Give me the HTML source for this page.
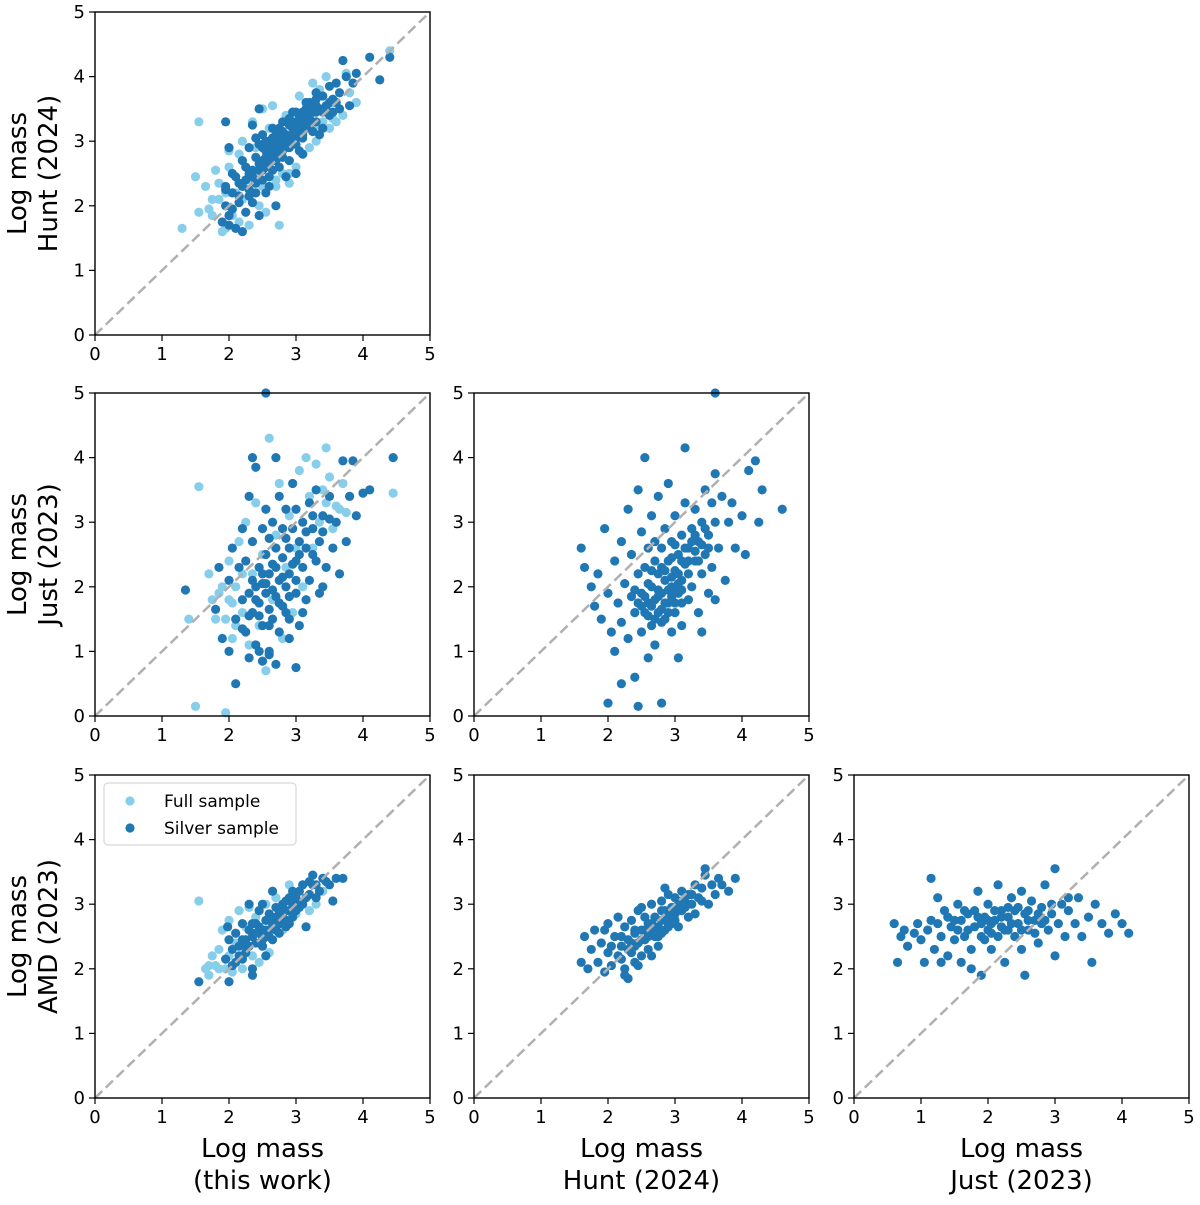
<!DOCTYPE html>
<html><head><meta charset="utf-8"><style>
body{margin:0;background:#fff}
svg text{font-family:"DejaVu Sans","Liberation Sans",sans-serif;fill:#000}
</style></head><body>
<svg id="fig" width="1200" height="1200" viewBox="0 0 1200 1200" xmlns="http://www.w3.org/2000/svg"></svg>
<script>
const tickValues=[0,1,2,3,4,5];
const aFull="1.3,1.65 1.55,3.3 1.5,2.45 1.55,1.9 1.65,2.3 1.7,1.95 1.75,2.1 1.8,2.55 1.85,2.35 1.9,1.6 1.95,2.2 2.0,2.6 2.0,2.85 2.05,1.85 2.1,2.2 2.15,2.8 2.2,2.1 2.2,3.0 2.3,1.7 2.3,2.4 2.35,3.3 2.4,2.9 2.45,2.0 2.5,2.3 2.5,3.5 2.55,1.9 2.6,2.7 2.65,3.55 2.7,2.4 2.75,1.7 2.8,2.5 2.85,3.4 2.9,2.35 2.95,3.0 3.0,2.6 3.05,3.7 3.1,2.8 3.15,3.2 3.2,2.9 3.25,3.9 3.3,3.0 3.35,3.8 3.4,3.3 3.45,4.0 3.5,3.2 3.55,3.6 3.6,3.3 3.7,3.4 3.75,4.05 3.8,3.75 3.9,3.6 4.4,4.4 2.25,2.6 2.6,3.2 2.8,2.9 3.0,3.3 2.4,2.5 1.95,1.65 2.15,1.75 1.85,2.1 1.75,1.85 2.7,2.3 2.9,2.5 3.3,3.2 3.55,3.35";
const aSilver="1.9,1.75 1.95,2.3 2.0,1.7 2.05,1.95 2.1,1.65 2.1,2.45 2.15,2.05 2.2,1.6 2.2,2.3 2.25,1.9 2.25,2.6 2.3,2.15 2.3,2.9 2.35,2.45 2.35,3.25 2.4,2.2 2.4,2.75 2.45,2.55 2.45,2.95 2.5,2.4 2.5,2.7 2.5,3.1 2.55,2.6 2.55,2.85 2.6,2.3 2.6,2.75 2.6,3.0 2.65,2.55 2.65,2.9 2.65,3.2 2.7,2.7 2.7,2.95 2.7,3.1 2.75,2.6 2.75,2.85 2.75,3.05 2.8,2.75 2.8,3.0 2.8,3.3 2.85,2.9 2.85,3.1 2.9,2.7 2.9,3.0 2.9,3.25 2.95,2.95 2.95,3.2 2.95,3.45 3.0,3.05 3.0,3.3 3.05,2.85 3.05,3.15 3.05,3.4 3.1,3.05 3.1,3.3 3.15,3.5 3.15,3.2 3.2,3.35 3.2,3.6 3.25,3.15 3.25,3.45 3.3,3.3 3.3,3.65 3.35,3.5 3.4,3.2 3.4,3.7 3.45,3.55 3.5,3.85 3.5,3.4 3.55,3.65 3.6,3.9 3.65,3.75 3.7,4.25 3.75,4.0 3.8,3.55 3.85,3.9 3.9,4.05 4.1,4.3 4.25,3.95 4.4,4.3 1.95,3.3 2.45,3.5 3.0,2.5 2.7,2.0 2.35,2.05 1.95,2.25 2.05,2.5 2.55,2.2 2.85,2.45 3.1,2.8 2.2,2.7 2.4,3.05 2.6,2.45 3.35,3.1 2.45,1.85 2.0,2.9 2.55,2.75 2.65,2.8 2.75,2.9 2.85,3.0 2.95,3.1 3.05,3.25 3.15,3.35 3.25,3.55 2.45,2.65 2.35,2.55 2.25,2.4 2.15,2.35 2.5,2.9 2.6,2.9 3.1,3.45 3.2,3.25 3.3,3.45 3.45,3.5 3.55,3.45 2.8,3.15 2.7,2.85 3.0,3.15 2.5,2.55 2.6,2.65 2.7,2.75 2.8,2.85 2.9,2.9 3.0,2.95 3.1,3.1 3.2,3.45 3.3,3.55 3.4,3.45 3.5,3.6 3.6,3.6 3.65,3.5 2.4,2.35 2.3,2.5 2.55,3.0 2.65,3.05 2.75,3.2 2.9,3.35 3.0,3.45 3.15,3.6 3.3,3.75 2.3,2.25 2.15,2.15 2.05,2.2 1.95,2.0 2.0,1.85";
const bFull="1.4,1.5 1.5,0.15 1.55,3.55 1.7,2.2 1.75,1.8 1.85,1.9 1.95,0.05 1.95,1.5 2.0,2.4 2.05,1.2 2.1,2.0 2.15,2.7 2.2,1.6 2.25,3.0 2.3,1.1 2.35,2.2 2.4,3.3 2.45,1.4 2.5,2.5 2.55,0.7 2.6,4.3 2.65,1.8 2.7,2.8 2.75,3.6 2.8,1.2 2.85,2.3 2.9,3.1 2.95,1.6 3.0,2.6 3.05,3.8 3.1,2.0 3.2,3.4 3.25,2.6 3.3,3.9 3.35,3.0 3.4,3.5 3.5,3.7 3.55,2.9 3.6,3.25 3.7,3.6 3.8,3.4 4.45,3.45 3.45,4.15 3.15,4.0 1.9,2.0 2.05,1.75 3.75,3.15 1.8,1.5 2.0,1.8 2.1,1.4 2.2,2.2 3.45,3.3 3.65,3.2";
const bSilver="2.55,5.0 1.35,1.95 1.8,1.65 1.85,2.3 1.9,1.2 2.0,1.0 2.0,2.1 2.05,2.6 2.1,1.5 2.1,0.5 2.15,2.3 2.2,1.8 2.2,2.9 2.25,1.3 2.25,2.4 2.3,0.9 2.3,1.9 2.3,3.4 2.35,1.6 2.35,2.7 2.4,2.0 2.4,1.1 2.4,3.85 2.45,2.3 2.45,1.75 2.5,2.9 2.5,1.4 2.5,2.05 2.55,3.2 2.55,1.9 2.55,2.5 2.6,1.0 2.6,2.2 2.6,2.75 2.65,1.5 2.65,3.0 2.65,2.35 2.7,1.85 2.7,2.6 2.7,0.8 2.75,2.1 2.75,3.4 2.75,1.3 2.8,2.45 2.8,2.9 2.8,1.7 2.85,2.0 2.85,3.2 2.9,2.6 2.9,1.5 2.9,2.2 2.95,2.9 2.95,3.6 3.0,1.9 3.0,2.4 3.0,3.2 3.05,2.7 3.05,1.4 3.1,2.3 3.1,3.0 3.15,1.8 3.15,2.6 3.2,3.3 3.2,2.1 3.25,2.9 3.3,2.4 3.3,3.5 3.35,1.9 3.35,2.7 3.4,3.1 3.45,2.3 3.5,3.4 3.55,2.6 3.6,3.0 3.65,2.2 3.7,3.95 3.75,2.7 3.8,3.4 3.9,3.1 4.0,3.45 4.1,3.5 4.45,4.0 3.85,3.95 2.7,4.0 2.35,4.0 2.45,1.0 3.0,0.75 2.6,1.4 2.5,0.85 2.2,1.35 2.85,2.75 3.25,3.1 2.6,0.95 2.9,1.2 3.4,2.0 3.1,1.6 2.4,1.8 2.5,2.2 2.6,1.65 2.7,2.3 2.8,2.15 2.9,1.85 3.0,2.1 2.35,2.1 2.45,1.55 2.55,2.05 2.65,1.95 2.75,1.75 2.85,1.6 2.95,2.35 3.05,2.5 3.15,2.85 3.25,2.5 3.4,2.85 3.5,3.05 2.3,1.55";
const cSilver="3.6,5.0 1.6,2.6 1.65,2.3 1.75,2.0 1.8,1.7 1.85,2.2 1.9,1.5 1.95,2.9 2.0,1.9 2.0,0.2 2.05,1.3 2.1,2.4 2.1,1.0 2.15,1.75 2.2,2.7 2.2,1.45 2.25,2.05 2.3,3.2 2.3,1.2 2.35,1.85 2.35,2.5 2.4,0.6 2.4,1.6 2.45,2.2 2.45,0.15 2.45,3.5 2.5,1.3 2.5,1.9 2.5,2.85 2.55,1.6 2.55,4.0 2.55,2.3 2.6,0.9 2.6,1.75 2.6,2.6 2.65,1.4 2.65,2.0 2.65,3.1 2.7,1.8 2.7,2.4 2.7,1.1 2.75,2.2 2.75,1.6 2.75,3.4 2.8,1.9 2.8,2.6 2.8,0.2 2.85,1.5 2.85,2.1 2.85,2.9 2.9,1.75 2.9,2.4 2.9,3.6 2.95,1.3 2.95,2.0 2.95,2.7 3.0,1.6 3.0,2.25 3.0,3.1 3.05,1.9 3.05,2.5 3.05,0.9 3.1,2.1 3.1,2.8 3.1,1.4 3.15,2.35 3.15,3.3 3.15,4.15 3.2,1.8 3.2,2.6 3.25,2.9 3.25,2.0 3.3,3.2 3.3,2.4 3.35,1.6 3.35,2.7 3.4,3.0 3.4,2.2 3.45,3.5 3.45,2.5 3.5,2.8 3.5,1.9 3.55,3.3 3.55,2.3 3.6,3.0 3.6,3.75 3.65,2.6 3.7,3.4 3.75,2.1 3.8,3.0 3.85,3.3 3.9,2.6 4.0,3.1 4.05,2.5 4.1,3.8 4.2,3.95 4.25,3.0 4.3,3.5 4.6,3.2 3.4,1.3 2.2,0.5 3.6,1.8 2.85,2.25 2.95,2.15 3.0,1.95 2.9,1.95 2.8,2.3 3.1,2.4 2.75,1.95 2.95,2.45 3.05,2.2 3.15,2.6 2.65,2.25 2.85,1.75 3.2,2.2 3.25,2.7 2.7,2.7 3.35,2.4 3.0,2.65 2.8,1.65 3.1,1.75 2.6,2.05 3.45,2.9 3.3,2.8 2.6,1.55 2.7,1.5 2.8,1.45 2.9,1.6 3.0,1.75 3.1,1.95 2.55,1.85 2.65,1.7 2.75,1.85 2.95,1.85 3.05,2.05 3.2,2.4 3.3,2.55 3.4,2.65 3.5,2.6 2.5,1.7 2.4,1.95 2.45,1.75";
const dFull="1.55,3.05 1.65,2.0 1.7,1.9 1.8,2.05 1.85,2.3 1.9,2.6 1.95,2.0 2.0,2.75 2.05,1.95 2.1,2.4 2.15,2.9 2.2,2.0 2.25,2.65 2.3,2.95 2.35,2.2 2.4,2.8 2.5,2.5 2.6,2.25 2.7,3.1 2.8,2.6 2.9,3.3 3.0,2.85 3.1,3.3 3.2,2.9 3.3,3.0 3.4,3.2 2.55,3.0 2.45,2.1 1.75,2.2 2.0,2.2 2.2,2.2 1.7,2.05 1.85,2.0";
const dSilver="1.55,1.8 1.95,2.15 1.98,2.65 2.0,1.8 2.05,2.3 2.1,2.1 2.1,2.55 2.15,2.35 2.2,2.15 2.2,2.7 2.25,2.45 2.25,2.25 2.3,2.6 2.3,2.35 2.35,2.5 2.35,2.0 2.4,2.7 2.4,2.4 2.45,2.55 2.45,2.9 2.5,2.6 2.5,2.35 2.55,2.75 2.55,2.5 2.6,2.6 2.6,2.85 2.65,2.7 2.65,2.45 2.7,2.8 2.7,2.6 2.75,2.9 2.75,2.7 2.8,2.8 2.8,3.0 2.85,2.75 2.85,3.05 2.9,2.9 2.9,2.7 2.95,3.0 3.0,3.1 3.0,2.9 3.05,3.2 3.1,3.0 3.1,3.3 3.15,2.65 3.2,3.35 3.2,3.15 3.25,3.45 3.3,3.3 3.35,3.2 3.4,3.4 3.45,3.35 3.5,3.3 3.55,3.05 3.6,3.4 3.7,3.4 2.3,3.0 2.5,3.0 2.65,3.2 2.55,2.2 2.35,1.9 2.0,2.45 2.45,2.65 2.6,2.75 2.35,2.7 2.85,2.9 3.25,3.3 3.0,3.0 2.7,2.95 2.95,3.2 2.2,2.45 2.4,2.55 2.05,2.05 2.15,2.2 2.25,2.35 2.5,2.45 2.6,2.5 2.75,2.55 2.85,2.65 2.95,2.8 3.05,2.95 3.15,3.1 3.3,3.1 2.9,3.1 2.55,2.6";
const eSilver="1.6,2.1 1.65,2.5 1.7,2.0 1.75,2.3 1.8,2.6 1.85,2.1 1.9,2.4 1.95,1.95 2.0,2.7 2.0,2.25 2.05,2.05 2.1,2.5 2.15,2.2 2.15,2.8 2.2,2.35 2.25,2.0 2.25,2.65 2.3,2.45 2.3,1.85 2.35,2.25 2.35,2.75 2.4,2.55 2.4,2.1 2.45,2.4 2.45,2.9 2.5,2.6 2.5,2.2 2.55,2.45 2.55,2.8 2.6,2.6 2.6,2.3 2.65,2.7 2.65,3.0 2.7,2.5 2.7,2.8 2.75,2.65 2.75,2.35 2.8,2.75 2.8,3.05 2.85,2.6 2.85,2.9 2.9,2.8 2.9,3.15 2.95,2.7 2.95,2.95 3.0,2.85 3.0,3.1 3.05,2.65 3.05,3.0 3.1,2.9 3.1,3.2 3.15,3.05 3.2,2.8 3.2,3.15 3.25,3.0 3.3,3.3 3.3,2.85 3.35,3.1 3.4,3.25 3.45,3.45 3.5,3.0 3.55,3.3 3.6,3.15 3.65,3.4 3.7,3.3 3.8,3.2 3.9,3.4 2.25,1.9 2.45,2.05 2.65,2.2 1.95,2.6 2.5,2.95 2.85,3.25 3.45,3.55 2.35,2.4 2.55,2.6 2.75,2.5 2.95,2.85 3.15,2.95 2.6,2.5 2.7,2.65 2.8,2.9 2.9,2.65 3.0,2.75 2.4,2.35 2.2,2.15 2.05,2.35 2.5,2.45 2.6,2.7 2.7,2.6 2.8,2.55 3.0,2.95 3.1,3.05 3.25,3.15 3.4,3.05 2.3,2.3 2.4,2.6 2.85,2.75 2.2,2.5";
const fSilver="0.6,2.7 0.65,2.1 0.7,2.5 0.75,2.6 0.8,2.35 0.9,2.55 0.95,2.7 1.0,2.45 1.05,2.1 1.1,2.6 1.15,3.4 1.2,2.3 1.25,2.7 1.3,2.5 1.35,2.9 1.4,2.2 1.45,2.65 1.5,2.45 1.55,3.0 1.6,2.75 1.6,2.1 1.65,2.5 1.7,2.85 1.75,2.3 1.8,2.65 1.85,3.2 1.9,2.5 1.9,1.9 1.95,2.8 2.0,2.6 2.0,3.0 2.05,2.3 2.1,2.75 2.15,2.5 2.15,3.3 2.2,2.9 2.25,2.6 2.25,2.1 2.3,2.8 2.35,3.1 2.4,2.5 2.4,2.9 2.45,2.7 2.5,3.2 2.5,2.3 2.55,2.85 2.6,2.6 2.65,3.05 2.7,2.75 2.75,2.4 2.8,2.95 2.85,3.3 2.9,2.6 2.95,2.85 3.0,3.55 3.0,2.2 3.05,2.7 3.1,3.0 3.15,2.5 3.2,2.9 3.3,2.7 3.35,3.1 3.4,2.5 3.5,2.8 3.55,2.1 3.6,3.0 3.7,2.7 3.8,2.55 3.9,2.85 4.0,2.7 4.1,2.55 1.75,2.0 2.55,1.9 1.3,2.1 2.0,2.75 2.3,2.6 2.6,2.9 1.8,2.9 2.2,2.65 2.45,2.95 2.7,2.55 1.55,2.6 1.9,2.7 2.1,2.9 2.35,2.7 2.8,2.7 2.95,3.0 3.2,3.1 1.4,2.8 1.65,2.9 2.05,2.55 1.25,3.1 1.7,2.6 1.85,2.8 2.05,2.7 2.2,2.8 2.3,2.95 2.5,2.6 2.6,2.75 2.75,2.85 2.85,2.75 1.95,2.45 1.5,2.75 1.15,2.75";

const NS="http://www.w3.org/2000/svg";
const svg=document.getElementById('fig');
function mk(tag,attrs,parent){const e=document.createElementNS(NS,tag);for(const k in attrs)e.setAttribute(k,attrs[k]);(parent||svg).appendChild(e);return e;}
function parse(s){return s.trim().split(/\s+/).map(p=>p.split(',').map(Number));}
const LIGHT="#87ceeb",DARK="#1f77b4";
const colX=[95,474,854],rowY=[12,393,775],W=335,H=323;
const panels=[
 {id:'hunt-vs-thiswork',c:0,r:0,full:aFull,silver:aSilver},
 {id:'just-vs-thiswork',c:0,r:1,full:bFull,silver:bSilver},
 {id:'just-vs-hunt',c:1,r:1,full:null,silver:cSilver},
 {id:'amd-vs-thiswork',c:0,r:2,full:dFull,silver:dSilver},
 {id:'amd-vs-hunt',c:1,r:2,full:null,silver:eSilver},
 {id:'amd-vs-just',c:2,r:2,full:null,silver:fSilver}
];
const R=4.6;
panels.forEach(p=>{
 const x0=colX[p.c],y0=rowY[p.r];
 const sx=v=>x0+v/5*W, sy=v=>y0+H-v/5*H;
 const g=mk('g',{});
 
 
 [[p.full,LIGHT,'full-sample-point'],[p.silver,DARK,'silver-sample-point']].forEach(([d,col,nm])=>{
  if(!d)return;
  parse(d).forEach(([x,y])=>{
   const c=mk('circle',{cx:sx(x),cy:sy(y),r:R,fill:col},g);
   
   
  });
 });
 const dl=mk('line',{x1:sx(0),y1:sy(0),x2:sx(5),y2:sy(5),stroke:'#b0b0b0','stroke-width':2.5,'stroke-dasharray':'10,5'},g);
 
 
 const fr=mk('rect',{x:x0,y:y0,width:W,height:H,fill:'none',stroke:'#000','stroke-width':1.4},g);
 
 
 tickValues.forEach(t=>{
  mk('line',{x1:sx(t),y1:y0+H,x2:sx(t),y2:y0+H+6,stroke:'#000','stroke-width':1.2},g);
  const tx=mk('text',{x:sx(t),y:y0+H+25,'text-anchor':'middle','font-size':18},g);
  tx.textContent=t;
  
  
  mk('line',{x1:x0-6,y1:sy(t),x2:x0,y2:sy(t),stroke:'#000','stroke-width':1.2},g);
  const ty=mk('text',{x:x0-10,y:sy(t)+6,'text-anchor':'end','font-size':18},g);
  ty.textContent=t;
  
  
 });
});
const yTitles=[['Log mass','Hunt (2024)'],['Log mass','Just (2023)'],['Log mass','AMD (2023)']];
yTitles.forEach((t,i)=>{
 const cy=rowY[i]+H/2;
 const tx=mk('text',{transform:`translate(26,${cy}) rotate(-90)`,'text-anchor':'middle','font-size':26});
 
 
 mk('tspan',{x:0,y:0},tx).textContent=t[0];
 mk('tspan',{x:0,y:31},tx).textContent=t[1];
});
const xTitles=[['Log mass','(this work)'],['Log mass','Hunt (2024)'],['Log mass','Just (2023)']];
xTitles.forEach((t,i)=>{
 const cx=colX[i]+W/2;
 const tx=mk('text',{'text-anchor':'middle','font-size':26});
 
 
 mk('tspan',{x:cx,y:1157},tx).textContent=t[0];
 mk('tspan',{x:cx,y:1189},tx).textContent=t[1];
});
const lg=mk('g',{});


mk('rect',{x:104,y:783,width:192,height:62,rx:4,fill:'#fff',stroke:'#d8d8d8','stroke-width':1.2},lg);
[['Full sample',LIGHT,801],['Silver sample',DARK,828]].forEach(([lab,col,y])=>{
 const m=mk('circle',{cx:130,cy:y,r:R,fill:col},lg);
 
 
 const t=mk('text',{x:164,y:y+6,'font-size':17},lg);
 t.textContent=lab;
 
 
});
</script>
</body></html>
